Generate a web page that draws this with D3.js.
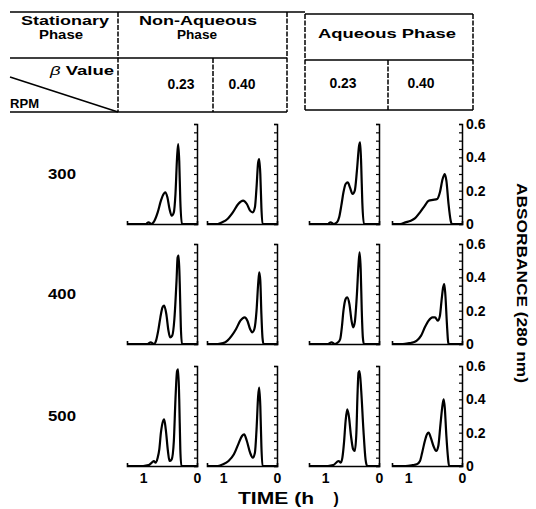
<!DOCTYPE html>
<html>
<head>
<meta charset="utf-8">
<script src="https://cdn.jsdelivr.net/npm/d3@7"></script>
<style>
  body { margin: 0; background: #fff; }
  svg { display: block; font-family: "Liberation Sans", Arial, sans-serif; font-weight: bold; }
</style>
</head>
<body>
<div id="chart"></div>
<script>
// labels
var rpmLabels = ["300", "400", "500"];
var phaseLabels = ["Non-Aqueous Phase", "Aqueous Phase"];
var betaLabels = ["0.23", "0.40", "0.23", "0.40"];
var absTicks = [0, 0.2, 0.4, 0.6];
var timeTicks = [1, 0];

// traces: [time (h), absorbance]
var rpm300_nonAq_023 = [[1.30,0],[0.95,0],[0.90,0.01],[0.85,0],[0.79,0.02],[0.73,0.07],[0.67,0.14],[0.62,0.18],[0.59,0.19],[0.55,0.16],[0.51,0.09],[0.47,0.05],[0.43,0.07],[0.40,0.18],[0.37,0.40],[0.35,0.48],[0.33,0.38],[0.31,0.14],[0.28,0],[0,0]];
var rpm300_nonAq_040 = [[1.30,0],[1.10,0],[1.02,0.01],[0.92,0.03],[0.82,0.07],[0.72,0.12],[0.63,0.14],[0.56,0.12],[0.50,0.08],[0.45,0.07],[0.41,0.10],[0.38,0.22],[0.35,0.37],[0.33,0.39],[0.31,0.30],[0.29,0.10],[0.27,0],[0,0]];
var rpm300_aq_023 = [[1.30,0],[0.95,0],[0.90,0.01],[0.84,0],[0.78,0.01],[0.74,0.04],[0.70,0.11],[0.66,0.19],[0.62,0.24],[0.58,0.25],[0.54,0.22],[0.49,0.18],[0.45,0.20],[0.41,0.32],[0.37,0.47],[0.35,0.49],[0.33,0.35],[0.31,0.13],[0.28,0],[0,0]];
var rpm300_aq_040 = [[1.30,0],[1.15,0],[1.05,0.01],[0.95,0.02],[0.87,0.035],[0.78,0.07],[0.69,0.11],[0.62,0.14],[0.54,0.145],[0.46,0.15],[0.41,0.19],[0.36,0.27],[0.32,0.30],[0.29,0.26],[0.25,0.12],[0.21,0.02],[0.19,0],[0,0]];

var rpm400_nonAq_023 = [[1.30,0],[0.92,0],[0.86,0.01],[0.80,0],[0.76,0.02],[0.72,0.08],[0.68,0.16],[0.64,0.22],[0.61,0.23],[0.57,0.18],[0.53,0.08],[0.50,0.04],[0.46,0.05],[0.42,0.15],[0.38,0.38],[0.36,0.52],[0.34,0.53],[0.32,0.36],[0.30,0.10],[0.28,0],[0,0]];
var rpm400_nonAq_040 = [[1.30,0],[1.10,0],[1.00,0.005],[0.92,0.02],[0.84,0.05],[0.76,0.09],[0.68,0.14],[0.60,0.16],[0.55,0.14],[0.50,0.09],[0.46,0.07],[0.42,0.09],[0.38,0.20],[0.35,0.36],[0.33,0.43],[0.31,0.38],[0.29,0.18],[0.27,0.04],[0.25,0],[0,0]];
var rpm400_aq_023 = [[1.30,0],[0.95,0],[0.88,0.01],[0.82,0],[0.76,0.01],[0.72,0.03],[0.69,0.10],[0.66,0.20],[0.62,0.27],[0.59,0.28],[0.55,0.24],[0.51,0.14],[0.48,0.10],[0.45,0.13],[0.41,0.30],[0.38,0.48],[0.36,0.55],[0.34,0.45],[0.32,0.20],[0.30,0.04],[0.28,0],[0,0]];
var rpm400_aq_040 = [[1.30,0],[1.10,0],[0.98,0.005],[0.90,0.01],[0.84,0.02],[0.76,0.05],[0.69,0.10],[0.62,0.14],[0.55,0.16],[0.50,0.16],[0.45,0.14],[0.41,0.17],[0.38,0.26],[0.35,0.34],[0.33,0.36],[0.31,0.30],[0.28,0.12],[0.26,0.02],[0.25,0],[0,0]];

var rpm500_nonAq_023 = [[1.30,0],[1.00,0],[0.90,0.005],[0.84,0.02],[0.80,0.03],[0.77,0.02],[0.73,0.05],[0.70,0.10],[0.67,0.20],[0.63,0.27],[0.61,0.28],[0.58,0.22],[0.54,0.09],[0.51,0.03],[0.47,0.04],[0.43,0.15],[0.40,0.40],[0.37,0.57],[0.35,0.58],[0.33,0.40],[0.31,0.10],[0.29,0],[0,0]];
var rpm500_nonAq_040 = [[1.30,0],[1.10,0],[1.00,0.01],[0.90,0.03],[0.80,0.07],[0.72,0.13],[0.65,0.18],[0.61,0.19],[0.56,0.15],[0.50,0.08],[0.45,0.05],[0.41,0.08],[0.38,0.22],[0.35,0.42],[0.33,0.47],[0.31,0.36],[0.29,0.12],[0.27,0],[0,0]];
var rpm500_aq_023 = [[1.30,0],[0.95,0],[0.85,0.005],[0.75,0.03],[0.71,0.02],[0.68,0.05],[0.65,0.14],[0.62,0.27],[0.59,0.34],[0.56,0.30],[0.52,0.18],[0.48,0.10],[0.45,0.09],[0.42,0.20],[0.40,0.42],[0.38,0.56],[0.36,0.57],[0.33,0.45],[0.29,0.22],[0.25,0.04],[0.22,0],[0,0]];
var rpm500_aq_040 = [[1.30,0],[1.05,0],[0.92,0.005],[0.84,0.01],[0.78,0.03],[0.74,0.08],[0.69,0.15],[0.65,0.19],[0.62,0.20],[0.58,0.17],[0.53,0.12],[0.48,0.09],[0.44,0.12],[0.40,0.25],[0.36,0.37],[0.34,0.40],[0.32,0.35],[0.29,0.18],[0.26,0.05],[0.24,0],[0,0]];

var traces = [
  [rpm300_nonAq_023, rpm300_nonAq_040, rpm300_aq_023, rpm300_aq_040],
  [rpm400_nonAq_023, rpm400_nonAq_040, rpm400_aq_023, rpm400_aq_040],
  [rpm500_nonAq_023, rpm500_nonAq_040, rpm500_aq_023, rpm500_aq_040]
];

var width = 536, height = 509;
var svg = d3.select("#chart").append("svg")
  .attr("width", width).attr("height", height);

// helper for scanned-looking text
function label(x, y, str, anchor, size, len) {
  var t = svg.append("text")
    .attr("x", x).attr("y", y)
    .attr("text-anchor", anchor)
    .attr("font-size", size)
    .text(str);
  if (len) t.attr("textLength", len).attr("lengthAdjust", "spacingAndGlyphs");
  return t;
}

// ----- header table -----
var table = svg.append("g").attr("stroke", "#000").attr("fill", "none");
var hLines = [[10, 12, 305, 12], [305, 14, 473, 14], [10, 58, 287, 58], [305, 60, 473, 60],
  [10, 112, 287, 112], [305, 110, 473, 110]];
hLines.forEach(function(l) {
  table.append("line").attr("x1", l[0]).attr("y1", l[1]).attr("x2", l[2]).attr("y2", l[3])
    .attr("stroke-width", 1.6);
});
var vLines = [[118, 12, 112], [213, 58, 112], [287, 12, 112], [305, 14, 110], [388, 60, 110], [473, 14, 110]];
vLines.forEach(function(l) {
  table.append("line").attr("x1", l[0]).attr("y1", l[1]).attr("x2", l[0]).attr("y2", l[2])
    .attr("stroke-width", 1.5).attr("stroke-dasharray", "5,1.5");
});
// diagonal corner
table.append("line").attr("x1", 10).attr("y1", 77).attr("x2", 118).attr("y2", 112).attr("stroke-width", 1.5);

label(65, 25, "Stationary", "middle", 12, 88);
label(61, 39, "Phase", "middle", 12, 44);
var naWords = phaseLabels[0].split(" ");
label(198, 25, naWords[0], "middle", 12, 118);
label(197, 38.5, naWords[1], "middle", 12, 40);
label(387, 38, phaseLabels[1], "middle", 13, 138);
// beta value, stretched to the scanned width
var bv = svg.append("text").attr("x", 50).attr("y", 75).attr("font-size", 13)
  .attr("textLength", 64).attr("lengthAdjust", "spacingAndGlyphs");
bv.append("tspan").attr("font-style", "italic").attr("font-weight", "normal").text("β ");
bv.append("tspan").text("Value");
label(10, 108, "RPM", "start", 13, 29);
var betaX = [181, 242, 343, 421];
betaLabels.forEach(function(b, i) {
  label(betaX[i], i < 2 ? 89 : 88, b, "middle", 14, 27);
});

// ----- small chromatogram panels -----
var colRight = [197, 277, 379, 462];
var rowBase = [224, 344, 466];
var panelW = 70, panelH = 100;

var x = d3.scaleLinear().domain([1.3, 0]).range([0, panelW]);
var y = d3.scaleLinear().domain([0, 0.6]).range([panelH, 0]);
var minorTicks = d3.range(0, 0.601, 0.05);

var trace = d3.line()
  .x(function(d) { return x(d[0]); })
  .y(function(d) { return y(d[1]); })
  .curve(d3.curveMonotoneX);

rowBase.forEach(function(base, r) {
  // rpm label
  label(62, base - 45, rpmLabels[r], "middle", 15, 28);

  colRight.forEach(function(right, c) {
    var g = svg.append("g")
      .attr("transform", "translate(" + (right - panelW) + "," + (base - panelH) + ")");

    // time axis (baseline)
    var xAxis = d3.axisBottom(x)
      .tickValues(r === 2 ? timeTicks : [])
      .tickSize(0).tickSizeOuter(-3).tickPadding(7)
      .tickFormat(d3.format("d"));
    var gx = g.append("g").attr("transform", "translate(0," + panelH + ")").call(xAxis);
    gx.attr("font-family", null).attr("font-size", 14);
    gx.select(".domain").attr("stroke-width", 1.6);

    // absorbance axis on the right edge, ticks pointing in
    var yAxis = d3.axisLeft(y).tickValues(minorTicks)
      .tickSize(3).tickSizeOuter(3).tickFormat("");
    var gy = g.append("g").attr("transform", "translate(" + panelW + ",0)").call(yAxis);
    gy.select(".domain").attr("stroke-width", 1.5);
    gy.selectAll(".tick line").attr("stroke-width", 1.2);

    if (c === 3) {
      var yLab = d3.axisRight(y).tickValues(absTicks).tickSize(0).tickPadding(4)
        .tickFormat(function(d) { return String(d); });
      var gl = g.append("g").attr("transform", "translate(" + panelW + ",0)").call(yLab);
      gl.select(".domain").remove();
      gl.attr("font-family", null).attr("font-size", 14);
    }

    // chromatogram trace
    g.append("path")
      .datum(traces[r][c])
      .attr("fill", "none")
      .attr("stroke", "#000")
      .attr("stroke-width", 2.2)
      .attr("stroke-linejoin", "round")
      .attr("d", trace);
  });
});

// axis titles
var tt = svg.append("text").attr("x", 238).attr("y", 504).attr("font-size", 16);
tt.append("tspan").attr("textLength", 76).attr("lengthAdjust", "spacingAndGlyphs").text("TIME (h");
tt.append("tspan").attr("x", 329).text(" )");

svg.append("text")
  .attr("transform", "translate(522,283) rotate(90)")
  .attr("text-anchor", "middle")
  .attr("dy", "0.35em")
  .attr("font-size", 15)
  .attr("textLength", 200)
  .attr("lengthAdjust", "spacingAndGlyphs")
  .text("ABSORBANCE (280 nm)");
</script>
</body>
</html>
